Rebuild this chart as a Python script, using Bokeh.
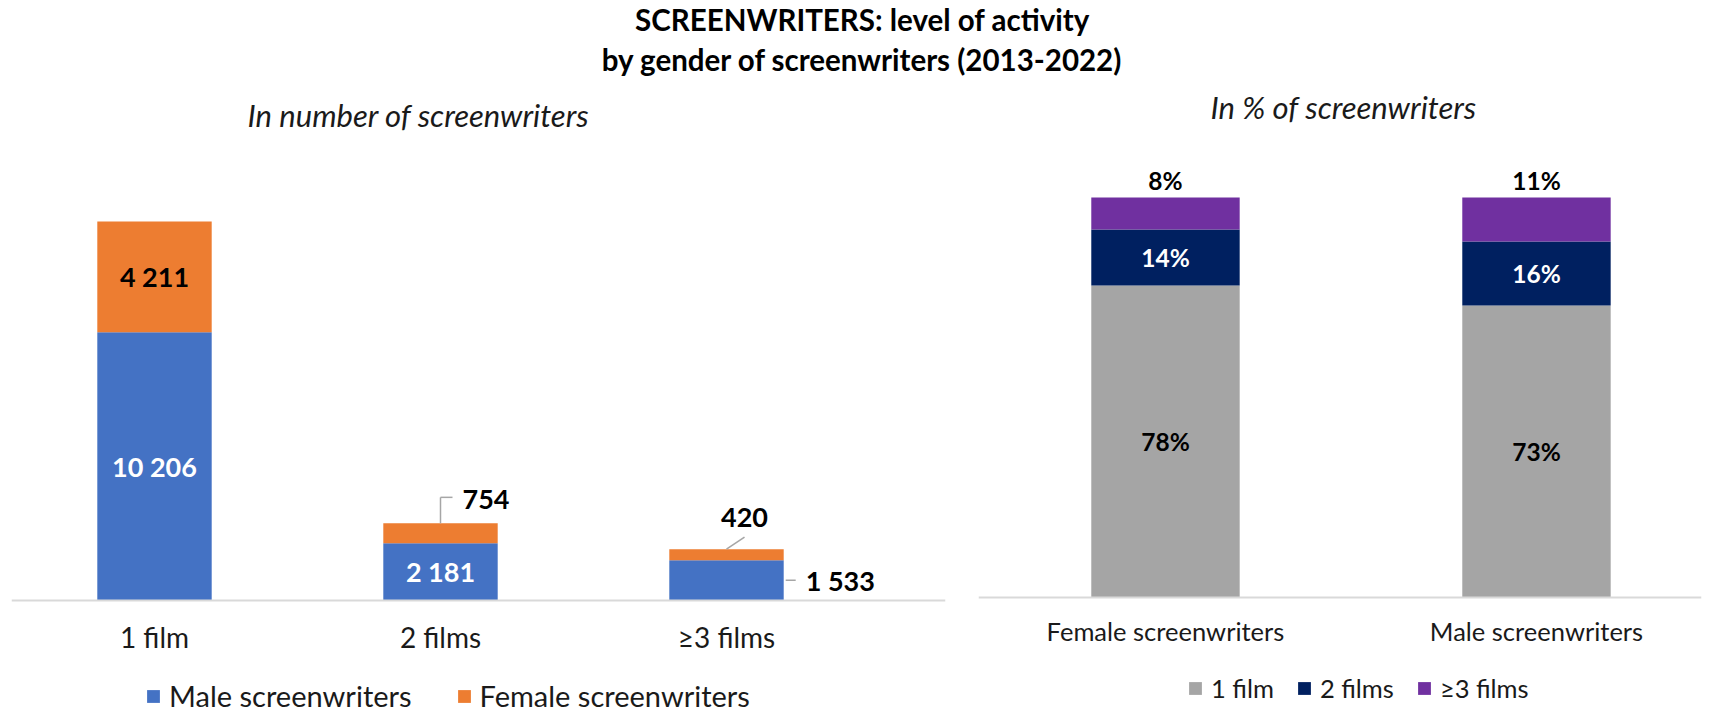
import numpy as np
from bokeh.plotting import figure
from bokeh.models import Range1d, Legend, LegendItem, ColumnDataSource, FixedTicker
from bokeh.layouts import column, row
from bokeh.embed import file_html
from bokeh.resources import INLINE
from bokeh.core.properties import value

# ---------------- data ----------------
title_lines = ["SCREENWRITERS: level of activity", "by gender of screenwriters (2013-2022)"]
subtitles = ["In number of screenwriters", "In % of screenwriters"]

activity = ["1 film", "2 films", "\u22653 films"]
male_counts = [10206, 2181, 1533]
female_counts = [4211, 754, 420]
gender_series = ["Male screenwriters", "Female screenwriters"]

genders = ["Female screenwriters", "Male screenwriters"]
pct_1film = [78, 73]
pct_2films = [14, 16]
pct_3films = [8, 11]
activity_series = ["1 film", "2 films", "\u22653 films"]

# ---------------- style ----------------
FONT = "Lato"
C_MALE = "#4472C4"
C_FEMALE = "#ED7D31"
C_1 = "#A5A5A5"
C_2 = "#002060"
C_3 = "#7030A0"
AXIS_C = "#D9D9D9"
TXT = "#1a1a1a"

def fmt(n):
    return f"{n:,}".replace(",", " ")

def bare(fig):
    fig.outline_line_color = None
    fig.grid.visible = False
    return fig

# ---------------- header figure (title + subtitles) ----------------
TW, TH = 1720, 140
tfig = bare(figure(width=TW, height=TH, x_range=Range1d(0, TW), y_range=Range1d(0, TH),
                   output_backend="svg", toolbar_location=None,
                   x_axis_location=None, y_axis_location=None, min_border=0))
tsrc = ColumnDataSource(dict(x=[862, 862], y=[TH - 19, TH - 59], t=title_lines))
tfig.text(x="x", y="y", text="t", source=tsrc, text_font=value(FONT), text_font_style="bold",
          text_font_size="29.5px", text_align="center", text_baseline="middle", text_color="black")
ssrc = ColumnDataSource(dict(x=[418, 1343], y=[TH - 114, TH - 106], t=subtitles))
tfig.text(x="x", y="y", text="t", source=ssrc, text_font=value(FONT), text_font_style="italic",
          text_font_size="31px", text_align="center", text_baseline="middle", text_color=TXT)

FH = 520   # chart frames span window y 140 .. 660

# ---------------- left figure ----------------
L_FW = 934
L_BASE = 460                      # baseline at window y = 600
L_PPU = 379.0 / 14417.0           # px per screenwriter
L_SP = 286.0                      # px per category
lx = list(range(len(activity)))

left = bare(figure(frame_width=L_FW, frame_height=FH,
                   x_range=Range1d(-0.5, -0.5 + L_FW / L_SP),
                   y_range=Range1d(-(FH - L_BASE) / L_PPU, L_BASE / L_PPU),
                   output_backend="svg", toolbar_location=None, y_axis_location=None,
                   min_border_left=11, min_border_right=15, min_border_top=0, min_border_bottom=0))

ltot = [m + f for m, f in zip(male_counts, female_counts)]
lsrc = ColumnDataSource(dict(x=lx, male=male_counts, total=ltot))
left.vbar(x="x", bottom=0, top="male", width=0.40, source=lsrc, fill_color=C_MALE, line_color=None)
left.vbar(x="x", bottom="male", top="total", width=0.40, source=lsrc, fill_color=C_FEMALE, line_color=None)

ax = left.xaxis[0]
ax.fixed_location = 0
ax.ticker = FixedTicker(ticks=lx)
ax.major_label_overrides = {i: c for i, c in enumerate(activity)}
ax.major_label_text_font = FONT
ax.major_label_text_font_size = "28px"
ax.major_label_text_color = TXT
ax.major_label_standoff = 13
ax.major_tick_line_color = None
ax.minor_tick_line_color = None
ax.axis_line_color = AXIS_C
ax.axis_line_width = 2

dx = 1.0 / L_SP      # data units per px (x)
dy = 1.0 / L_PPU     # data units per px (y)

in_w = ColumnDataSource(dict(x=[0, 1], y=[male_counts[0] / 2, male_counts[1] / 2],
                             t=[fmt(male_counts[0]), fmt(male_counts[1])]))
left.text(x="x", y="y", text="t", source=in_w, text_font=value(FONT), text_font_style="bold",
          text_font_size="27px", text_align="center", text_baseline="middle", text_color="white")
in_b = ColumnDataSource(dict(x=[0], y=[male_counts[0] + female_counts[0] / 2],
                             t=[fmt(female_counts[0])]))
left.text(x="x", y="y", text="t", source=in_b, text_font=value(FONT), text_font_style="bold",
          text_font_size="27px", text_align="center", text_baseline="middle", text_color="black")

co_left = ColumnDataSource(dict(
    x=[1 + 22 * dx, 2 + 0.2 + 22 * dx],
    y=[ltot[1] + 24 * dy, male_counts[2] / 2],
    t=[fmt(female_counts[1]), fmt(male_counts[2])]))
left.text(x="x", y="y", text="t", source=co_left, text_font=value(FONT), text_font_style="bold",
          text_font_size="27px", text_align="left", text_baseline="middle", text_color="black")
co_center = ColumnDataSource(dict(x=[2 + 18 * dx], y=[ltot[2] + 32 * dy], t=[fmt(female_counts[2])]))
left.text(x="x", y="y", text="t", source=co_center, text_font=value(FONT), text_font_style="bold",
          text_font_size="27px", text_align="center", text_baseline="middle", text_color="black")

lead = ColumnDataSource(dict(
    x0=[1, 1, 2, 2.2 + 2 * dx],
    y0=[ltot[1], ltot[1] + 26 * dy, ltot[2], male_counts[2] / 2],
    x1=[1, 1 + 12 * dx, 2 + 18 * dx, 2.2 + 12 * dx],
    y1=[ltot[1] + 26 * dy, ltot[1] + 26 * dy, ltot[2] + 12 * dy, male_counts[2] / 2],
))
left.segment(x0="x0", y0="y0", x1="x1", y1="y1", source=lead, line_color="#A6A6A6", line_width=1.5)

# ---------------- right figure ----------------
R_FW = 723
R_BASE = 457                       # baseline at window y = 597
R_PPP = 4.0                        # px per percent
R_SP = 371.0
rx = list(range(len(genders)))
right = bare(figure(frame_width=R_FW, frame_height=FH,
                    x_range=Range1d(-0.504, -0.504 + R_FW / R_SP),
                    y_range=Range1d(-(FH - R_BASE) / R_PPP, R_BASE / R_PPP),
                    output_backend="svg", toolbar_location=None, y_axis_location=None,
                    min_border_left=18, min_border_right=19, min_border_top=0, min_border_bottom=0))

b1 = pct_1film
b2 = [a + b for a, b in zip(pct_1film, pct_2films)]
b3 = [a + b for a, b in zip(b2, pct_3films)]
rsrc = ColumnDataSource(dict(x=rx, b0=[0] * len(rx), b1=b1, b2=b2, b3=b3))
right.vbar(x="x", bottom="b0", top="b1", width=0.40, source=rsrc, fill_color=C_1, line_color=None)
right.vbar(x="x", bottom="b1", top="b2", width=0.40, source=rsrc, fill_color=C_2, line_color=None)
right.vbar(x="x", bottom="b2", top="b3", width=0.40, source=rsrc, fill_color=C_3, line_color=None)

rax = right.xaxis[0]
rax.fixed_location = 0
rax.ticker = FixedTicker(ticks=rx)
rax.major_label_overrides = {i: c for i, c in enumerate(genders)}
rax.major_label_text_font = FONT
rax.major_label_text_font_size = "25.5px"
rax.major_label_text_color = TXT
rax.major_label_standoff = 12
rax.major_tick_line_color = None
rax.minor_tick_line_color = None
rax.axis_line_color = AXIS_C
rax.axis_line_width = 2

lab_black = ColumnDataSource(dict(
    x=rx + rx,
    y=[v / 2 for v in pct_1film] + [t + 17 / R_PPP for t in b3],
    t=[f"{v}%" for v in pct_1film] + [f"{v}%" for v in pct_3films],
))
right.text(x="x", y="y", text="t", source=lab_black, text_font=value(FONT), text_font_style="bold",
           text_font_size="24.5px", text_align="center", text_baseline="middle", text_color="black")
lab_white = ColumnDataSource(dict(
    x=rx, y=[(a + b) / 2 for a, b in zip(b1, b2)], t=[f"{v}%" for v in pct_2films]))
right.text(x="x", y="y", text="t", source=lab_white, text_font=value(FONT), text_font_style="bold",
           text_font_size="24.5px", text_align="center", text_baseline="middle", text_color="white")

# ---------------- footer figure with both legends ----------------
FTH = 53
foot = bare(figure(width=TW, height=FTH, x_range=Range1d(0, TW), y_range=Range1d(0, FTH),
                   output_backend="svg", toolbar_location=None,
                   x_axis_location=None, y_axis_location=None, min_border=0))

def swatch(color):
    # legend key only: one NaN row so nothing is drawn in the footer itself
    src = ColumnDataSource(dict(x=np.array([np.nan]), top=np.array([np.nan])))
    return foot.vbar(x="x", top="top", width=0.4, source=src, fill_color=color, line_color=None)

leg_common = dict(orientation="horizontal", label_text_font=FONT, label_text_color=TXT,
                  glyph_width=16, glyph_height=16, label_standoff=8,
                  padding=0, margin=0, border_line_color=None, background_fill_alpha=0)

lleg = Legend(items=[LegendItem(label=gender_series[0], renderers=[swatch(C_MALE)]),
                     LegendItem(label=gender_series[1], renderers=[swatch(C_FEMALE)])],
              location=(145, 0), label_text_font_size="29px", label_height=30, spacing=44,
              **leg_common)
foot.add_layout(lleg, "center")

rleg = Legend(items=[LegendItem(label=activity_series[0], renderers=[swatch(C_1)]),
                     LegendItem(label=activity_series[1], renderers=[swatch(C_2)]),
                     LegendItem(label=activity_series[2], renderers=[swatch(C_3)])],
              location=(1187, 10), label_text_font_size="25.5px", label_height=29, spacing=22,
              **leg_common)
foot.add_layout(rleg, "center")

layout = column(tfig, row(left, right, spacing=0), foot, spacing=0)
open("out.html", "w").write(file_html(layout, INLINE))
